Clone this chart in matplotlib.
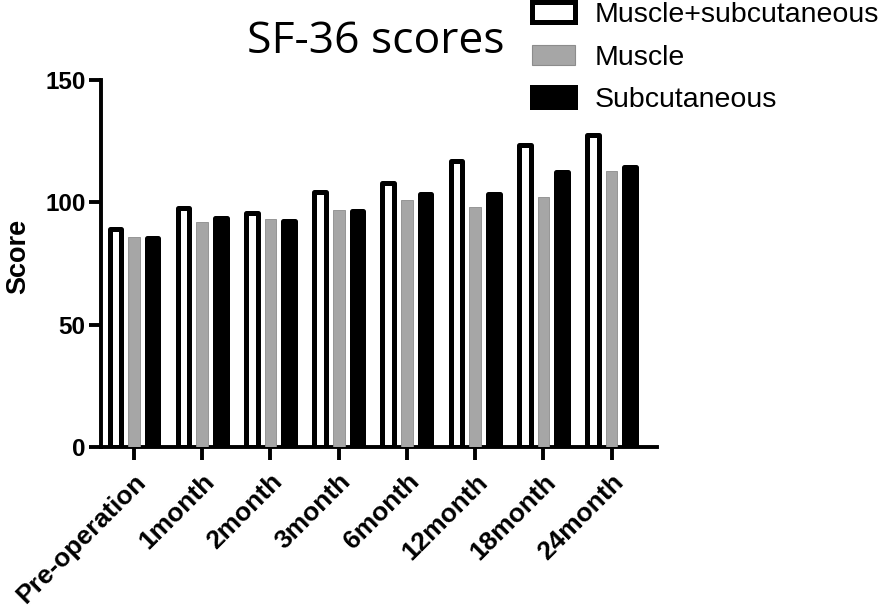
import numpy as np
import matplotlib
matplotlib.use("Agg")
import matplotlib.pyplot as plt
from matplotlib.patches import Patch

# data
categories = ["Pre-operation", "1month", "2month", "3month", "6month",
              "12month", "18month", "24month"]
muscle_subcut = [89, 97.5, 95.5, 104, 108, 117, 123.5, 127.5]
muscle = [86, 92, 93, 96.7, 100.8, 98, 102, 112.7]
subcut = [85.5, 93.5, 92.5, 96.5, 103.5, 103.5, 112.5, 114.5]
series_names = ["Muscle+subcutaneous", "Muscle", "Subcutaneous"]
yticks = [0, 50, 100, 150]

plt.rcParams['font.family'] = ['Liberation Sans', 'DejaVu Sans']

fig = plt.figure(figsize=(8.96, 6.15), dpi=100)
ax = fig.add_axes([0.1124, 0.2727, 0.6205, 0.5977])

x = np.arange(len(categories))
w = 0.171
off = 0.273
lw = 3.6

ax.bar(x - off, muscle_subcut, w, facecolor="white", edgecolor="black",
       linewidth=lw, joinstyle="round", zorder=3)
ax.bar(x, muscle, w, facecolor="#a6a6a6", edgecolor="#8c8c8c",
       linewidth=0.6, zorder=3)
ax.bar(x + off, subcut, w, facecolor="black", edgecolor="black",
       linewidth=lw, joinstyle="round", zorder=3)

ax.set_xlim(-0.488, 7.66)
ax.set_ylim(0, 150)
ax.set_yticks(yticks)
ax.set_xticks(x)
ax.set_xticklabels(categories, rotation=45, ha="right", rotation_mode="anchor",
                   fontsize=19, fontweight="bold")
for lab in ax.get_yticklabels():
    lab.set_fontsize(17.5)
    lab.set_fontweight("bold")

for s in ["top", "right"]:
    ax.spines[s].set_visible(False)
for s in ["left", "bottom"]:
    ax.spines[s].set_linewidth(2.8)
ax.tick_params(axis="both", length=9, width=2.8, pad=2)
ax.tick_params(axis="x", pad=7)

ax.set_ylabel("Score", fontsize=19.5, fontweight="bold")
ax.yaxis.set_label_coords(-0.125, 0.52)

fig.text(375.5 / 896, 1 - 53 / 615, "SF-36 scores", ha="center",
         va="baseline", fontsize=32, family="Open Sans")

handles = [Patch(facecolor="white", edgecolor="black", linewidth=lw, joinstyle="round"),
           Patch(facecolor="#a6a6a6", edgecolor="#8c8c8c", linewidth=0.8),
           Patch(facecolor="black", edgecolor="black", linewidth=lw, joinstyle="round")]
fig.legend(handles, series_names, loc="upper left",
           bbox_to_anchor=(532 / 896, 1 - 2 / 615), frameon=False,
           fontsize=20.5, handlelength=1.5, handleheight=0.7,
           handletextpad=0.7, labelspacing=0.58, borderpad=0, borderaxespad=0)

fig.savefig("out.png", dpi=100)
